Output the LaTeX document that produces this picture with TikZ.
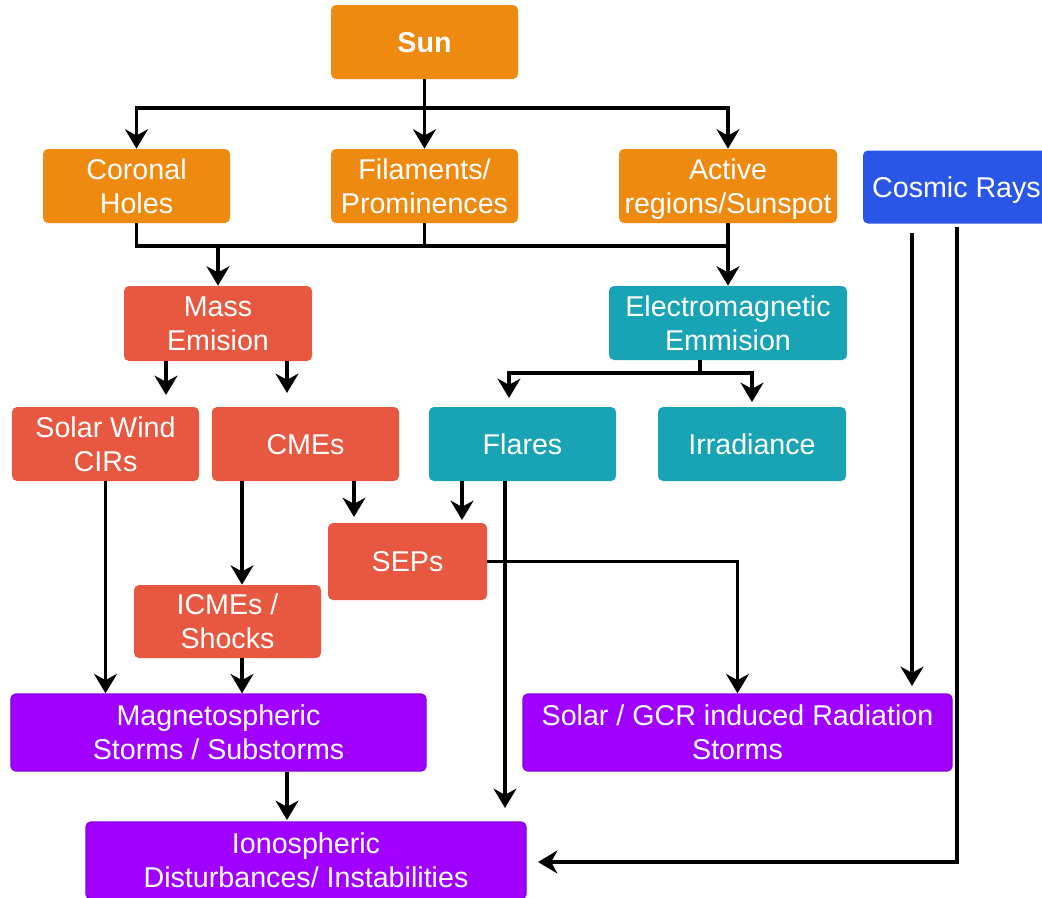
\documentclass[tikz,border=0pt]{standalone}
\usepackage{fontspec}
\setmainfont{Liberation Sans}
\usetikzlibrary{arrows.meta}

\definecolor{sunOrange}{HTML}{EF8A10}
\definecolor{massRed}{HTML}{E85740}
\definecolor{emTeal}{HTML}{18A4B4}
\definecolor{cosmicBlue}{HTML}{2A56E8}
\definecolor{stormPurple}{HTML}{A000FF}
\definecolor{stormEdge}{HTML}{8A00DC}

\tikzset{
    >={Stealth[length=11pt, width=13pt, inset=3.5pt]},
    link/.style={line width=0.065cm}
}

\begin{document}
\begin{tikzpicture}[
    block/.style={rectangle, rounded corners=0.1cm, minimum width=3.74cm, minimum height=1.48cm, inner sep=0pt, align=center, text=white, text depth=-2.9pt, font=\fontsize{16.3}{19.3}\selectfont},
    sunBox/.style={block, fill=sunOrange},
    massBox/.style={block, fill=massRed},
    emBox/.style={block, fill=emTeal},
    cosmicBox/.style={block, fill=cosmicBlue},
    stormBox/.style={block, fill=stormPurple, draw=stormEdge, thick, minimum height=1.54cm}
]
\useasboundingbox (0, 0) rectangle (20.84, -17.94);

% ----------------------------------------------------
% Level 0 & 1 (Sun and its features)
% ----------------------------------------------------
\node[sunBox] (Sun) at (8.49, -0.84) {\bfseries Sun};

\node[sunBox] (Coronal) at (2.73, -3.72) {Coronal\\Holes};
\node[sunBox] (Filaments) at (8.49, -3.72) {Filaments/\\Prominences};
\node[sunBox, minimum width=4.36cm] (Active) at (14.56, -3.72) {Active\\regions/Sunspot};
\node[cosmicBox, minimum height=1.46cm] (Cosmic) at (19.13, -3.74) {Cosmic Rays};

% T-Fork from the Sun
\coordinate (SunBus) at (8.49, -2.16);
\draw[link] (Sun.south) -- (SunBus);
\draw[->, link] (SunBus) -| (Coronal.north);
\draw[->, link] (SunBus) -- (Filaments.north);
\draw[->, link] (SunBus) -| (Active.north);

% ----------------------------------------------------
% Level 2 (Mass vs Electromagnetic emission)
% ----------------------------------------------------
\node[massBox, minimum width=3.76cm, minimum height=1.5cm] (Mass) at (4.36, -6.47) {Mass\\Emision};
\node[emBox, minimum width=4.76cm] (EM) at (14.56, -6.46) {Electromagnetic\\Emmision};

% Merging line below the features
\coordinate (MergeBus) at (4.36, -4.92);
\draw[link] (Coronal.south) |- (Active.south |- MergeBus);
\draw[link] (Filaments.south) -- (Filaments.south |- MergeBus);
\draw[->, link] (MergeBus) -- (Mass.north);
\draw[->, link] (Active.south) -- (EM.north);

% ----------------------------------------------------
% Level 3 (Solar wind, CMEs, flares, irradiance)
% ----------------------------------------------------
\node[massBox] (Wind) at (2.11, -8.88) {Solar Wind\\CIRs};
\node[massBox] (CMEs) at (6.11, -8.88) {CMEs};
\node[emBox] (Flares) at (10.45, -8.88) {Flares};
\node[emBox, minimum width=3.76cm] (Irradiance) at (15.04, -8.88) {Irradiance};

\coordinate (WindIn) at (3.32, -7.90);
\coordinate (CMEsIn) at (5.74, -7.86);
\draw[->, link] (Mass.south -| WindIn) -- (WindIn);
\draw[->, link] (Mass.south -| CMEsIn) -- (CMEsIn);

% Fork below the electromagnetic emission
\coordinate (EMBus) at (14.0, -7.46);
\coordinate (FlaresIn) at (10.18, -7.96);
\coordinate (IrradianceIn) at (15.04, -8.04);
\draw[link] (EM.south -| EMBus) -- (EMBus);
\draw[->, link] (EMBus) -| (FlaresIn);
\draw[->, link] (EMBus) -| (IrradianceIn);

% ----------------------------------------------------
% Level 4 (SEPs and ICMEs)
% ----------------------------------------------------
\node[massBox, minimum width=3.18cm, minimum height=1.54cm] (SEPs) at (8.15, -11.23) {SEPs};
\node[massBox, minimum height=1.46cm] (ICMEs) at (4.55, -12.43) {ICMEs /\\Shocks};

\coordinate (ICMEsIn) at (4.84, -11.70);
\coordinate (SEPsInL) at (7.08, -10.34);
\coordinate (SEPsInR) at (9.24, -10.40);
\draw[->, link] (CMEs.south -| ICMEsIn) -- (ICMEs.north -| ICMEsIn);
\draw[->, link] (CMEs.south -| SEPsInL) -- (SEPsInL);
\draw[->, link] (Flares.south -| SEPsInR) -- (SEPsInR);

% ----------------------------------------------------
% Level 5 (Storms and ionosphere)
% ----------------------------------------------------
\node[stormBox, minimum width=8.30cm] (Magneto) at (4.37, -14.65) {Magnetospheric\\Storms / Substorms};
\node[stormBox, minimum width=8.58cm] (Radiation) at (14.75, -14.65) {Solar / GCR induced Radiation\\Storms};
\node[stormBox, minimum width=8.80cm] (Iono) at (6.12, -17.21) {Ionospheric\\Disturbances/ Instabilities};

\draw[->, link] (Wind.south) -- (Wind.south |- Magneto.north);
\draw[->, link] (ICMEs.south -| ICMEsIn) -- (Magneto.north -| ICMEsIn);
\draw[->, link] (SEPs.east) -| (Radiation.north);

\coordinate (IonoInM) at (5.74, -16.40);
\coordinate (IonoInF) at (10.10, -16.16);
\draw[->, link] (Magneto.south -| IonoInM) -- (IonoInM);
\draw[->, link] (Flares.south -| IonoInF) -- (IonoInF);

% Cosmic rays (two long lines on the right)
\coordinate (CosmicOutL) at (18.24, -4.66);
\coordinate (CosmicOutR) at (19.14, -4.54);
\coordinate (RadiationIn) at (18.24, -13.72);
\coordinate (IonoInR) at (10.76, -17.24);
\draw[->, link] (CosmicOutL) -- (RadiationIn);
\draw[->, link] (CosmicOutR) |- (IonoInR);

\end{tikzpicture}
\end{document}
